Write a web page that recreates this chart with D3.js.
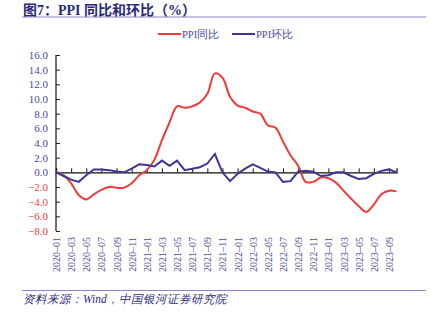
<!DOCTYPE html>
<html><head><meta charset="utf-8">
<script src="https://cdn.jsdelivr.net/npm/d3@7"></script>
<style>body{margin:0;background:#fff}svg{display:block}</style>
</head><body>
<svg id="c" width="431" height="323"></svg>
<script>
const months = [];
for (let y = 2020; y <= 2023; y++) for (let m = 1; m <= 12; m++) {
  if (y === 2023 && m > 10) break;
  months.push(y + "-" + String(m).padStart(2, "0"));
}
const ppiYoY = [0.1,-0.4,-1.5,-3.1,-3.7,-3.0,-2.4,-2.0,-2.1,-2.1,-1.5,-0.4,
  0.3,1.7,4.4,6.8,9.0,8.8,9.0,9.5,10.7,13.5,12.9,10.3,
  9.1,8.8,8.3,8.0,6.4,6.1,4.2,2.3,0.9,-1.3,-1.3,-0.7,
  -0.8,-1.4,-2.5,-3.6,-4.6,-5.4,-4.4,-3.0,-2.5,-2.6];
const ppiMoM = [0.0,-0.5,-1.0,-1.3,-0.4,0.4,0.4,0.3,0.1,0.0,0.5,1.1,
  1.0,0.8,1.6,0.9,1.6,0.3,0.5,0.7,1.2,2.5,0.0,-1.2,
  -0.2,0.5,1.1,0.6,0.1,0.0,-1.3,-1.2,0.1,0.2,0.1,-0.5,
  -0.4,0.0,0.0,-0.5,-0.9,-0.8,-0.2,0.2,0.4,0.0];
const yTicks = [-8,-6,-4,-2,0,2,4,6,8,10,12,14,16];
const seriesNames = ["PPI同比", "PPI环比"];

const RED = "#ee3b3b", BLUE = "#3d3793", NAVY = "#2b2a7a", LBL = "#4a4a9a";
const svg = d3.select("#c");
const serif = "'Liberation Serif','DejaVu Serif',serif";

const x = d3.scalePoint().domain(months).range([56, 396.5]);
const y = d3.scaleLinear().domain([-8, 16]).range([231, 55]);

// title
svg.append("text").attr("x", 23).attr("y", 14.5).attr("fill", NAVY)
  .attr("font-family", "'Liberation Serif','Noto Sans CJK SC',serif").attr("font-weight", "bold").attr("font-size", 14)
  .text("图7：PPI 同比和环比（%）");
svg.append("line").attr("x1", 22).attr("x2", 426).attr("y1", 17).attr("y2", 17)
  .attr("stroke", "#8a86c8").attr("stroke-width", 1);

// legend
const leg = [{n: seriesNames[0], c: RED, x: 158}, {n: seriesNames[1], c: BLUE, x: 232}];
leg.forEach(d => {
  svg.append("line").attr("x1", d.x).attr("x2", d.x + 23).attr("y1", 34).attr("y2", 34)
    .attr("stroke", d.c).attr("stroke-width", 2);
  svg.append("text").attr("x", d.x + 24).attr("y", 38).attr("fill", LBL)
    .attr("font-family", serif).attr("font-size", 10.5).text(d.n);
});

// y axis
const ya = svg.append("g").attr("transform", "translate(56,0)")
  .call(d3.axisLeft(y).tickValues(yTicks).tickSize(-4).tickPadding(8).tickFormat(d3.format(".1f")));
ya.select(".domain").attr("stroke", "#222").attr("stroke-width", 1.3).attr("d", "M0," + y(-8) + "V" + y(16));
ya.selectAll(".tick line").attr("stroke", "#222");
ya.selectAll(".tick text").attr("font-family", serif).attr("font-size", 11)
  .attr("fill", d => d < 0 ? RED : LBL).text(d => d < 0 ? "−" + d3.format(".1f")(-d) : d3.format(".1f")(d));

// x axis at zero
const labelMonths = months.filter((d, i) => i % 2 === 0);
const xa = svg.append("g").attr("transform", "translate(0," + y(0) + ")")
  .call(d3.axisBottom(x).tickValues(labelMonths).tickSize(-4).tickFormat(""));
xa.select(".domain").attr("stroke", "#111").attr("stroke-width", 1.3);
xa.selectAll(".tick line").attr("stroke", "#111");

// x labels (bottom, rotated)
svg.append("g").selectAll("text").data(labelMonths).join("text")
  .attr("transform", d => "translate(" + (x(d) + 4) + ",237) rotate(-90)")
  .attr("text-anchor", "end").attr("fill", LBL).attr("font-family", serif).attr("font-size", 10)
  .text(d => d.replace("-", "–"));

// lines
svg.append("path").datum(ppiYoY).attr("fill", "none").attr("stroke", RED).attr("stroke-width", 2)
  .attr("d", d3.line().x((d, i) => x(months[i])).y(d => y(d)).curve(d3.curveCatmullRom.alpha(0.5)));
svg.append("path").datum(ppiMoM).attr("fill", "none").attr("stroke", BLUE).attr("stroke-width", 2)
  .attr("d", d3.line().x((d, i) => x(months[i])).y(d => y(d)));

// source
svg.append("line").attr("x1", 22).attr("x2", 426).attr("y1", 290.5).attr("y2", 290.5)
  .attr("stroke", "#8a86c8").attr("stroke-width", 1);
svg.append("text").attr("x", 23).attr("y", 303).attr("fill", NAVY)
  .attr("font-family", serif).attr("font-style", "italic").attr("font-size", 11.5)
  .text("资料来源：Wind，中国银河证券研究院");
</script>
</body></html>
